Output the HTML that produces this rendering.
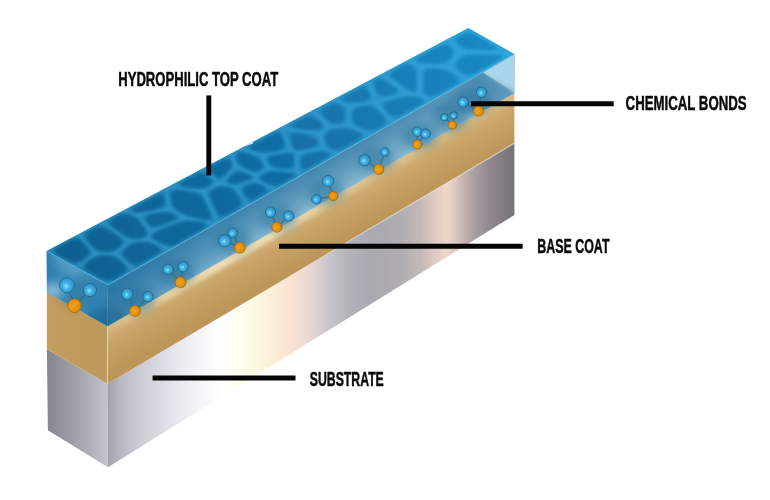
<!DOCTYPE html>
<html><head><meta charset="utf-8"><title>Coating layers</title>
<style>html,body{margin:0;padding:0;background:#fff}body{width:770px;height:500px;overflow:hidden;font-family:"Liberation Sans",sans-serif}svg{display:block}</style>
</head><body>
<svg width="770" height="500" viewBox="0 0 770 500">
<defs>
<filter id="blur1" x="-20%" y="-20%" width="140%" height="140%"><feGaussianBlur stdDeviation="1.7"/></filter>
<filter id="blur2" x="-20%" y="-20%" width="140%" height="140%"><feGaussianBlur stdDeviation="2.2"/></filter>
<filter id="blur4" x="-50%" y="-50%" width="200%" height="200%"><feGaussianBlur stdDeviation="4"/></filter>
<filter id="blur8" x="-50%" y="-50%" width="200%" height="200%"><feGaussianBlur stdDeviation="8"/></filter>
<radialGradient id="sb" cx=".44" cy=".56" r=".75"><stop offset="0" stop-color="#8ae4fb"/><stop offset=".3" stop-color="#40b0e2"/><stop offset=".7" stop-color="#2e92c6"/><stop offset="1" stop-color="#216c96"/></radialGradient>
<radialGradient id="so" cx=".4" cy=".5" r=".72"><stop offset="0" stop-color="#f2a21b"/><stop offset=".55" stop-color="#e4900c"/><stop offset="1" stop-color="#b87206"/></radialGradient>
<linearGradient id="topG" gradientUnits="userSpaceOnUse" x1="60" y1="270" x2="500" y2="40"><stop offset="0" stop-color="#1f80b2"/><stop offset=".5" stop-color="#2389bd"/><stop offset=".8" stop-color="#2798ce"/><stop offset="1" stop-color="#29a4dc"/></linearGradient>
<linearGradient id="cellG" gradientUnits="userSpaceOnUse" x1="60" y1="270" x2="500" y2="40"><stop offset="0" stop-color="#0d6092"/><stop offset=".5" stop-color="#116da2"/><stop offset=".8" stop-color="#1780b8"/><stop offset="1" stop-color="#1a89c3"/></linearGradient>
<linearGradient id="blueF" gradientUnits="userSpaceOnUse" x1="108.0" y1="285.0" x2="125.3" y2="315.4"><stop offset="0" stop-color="#3b81aa"/><stop offset=".2" stop-color="#488ab1"/><stop offset=".5" stop-color="#5c98ba"/><stop offset=".8" stop-color="#73a9c6"/><stop offset="1" stop-color="#88b9d1"/></linearGradient>
<linearGradient id="blueFx" gradientUnits="userSpaceOnUse" x1="108" y1="0" x2="514" y2="0"><stop offset="0" stop-color="#1b6c9e" stop-opacity=".62"/><stop offset=".15" stop-color="#2a7aaa" stop-opacity=".4"/><stop offset=".32" stop-color="#3b8dba" stop-opacity=".15"/><stop offset=".5" stop-color="#8fbfd8" stop-opacity=".06"/><stop offset=".8" stop-color="#9cc6dc" stop-opacity=".22"/><stop offset="1" stop-color="#a6cee2" stop-opacity=".3"/></linearGradient>
<linearGradient id="blueL" gradientUnits="userSpaceOnUse" x1="47" y1="0" x2="108" y2="0"><stop offset="0" stop-color="#2c7eae"/><stop offset=".4" stop-color="#4792bd"/><stop offset="1" stop-color="#2e80b0"/></linearGradient>
<linearGradient id="tanF" gradientUnits="userSpaceOnUse" x1="107.5" y1="326.2" x2="129.2" y2="364.5"><stop offset="0" stop-color="#d3b47a"/><stop offset=".35" stop-color="#c8a468"/><stop offset="1" stop-color="#bc9558"/></linearGradient>
<linearGradient id="tanHL" gradientUnits="userSpaceOnUse" x1="108" y1="0" x2="514" y2="0"><stop offset="0" stop-color="#efdfb6" stop-opacity=".15"/><stop offset=".16" stop-color="#efdfb6" stop-opacity=".7"/><stop offset=".28" stop-color="#efdfb6" stop-opacity="1"/><stop offset=".44" stop-color="#efdfb6" stop-opacity=".9"/><stop offset=".54" stop-color="#efdfb6" stop-opacity=".5"/><stop offset=".64" stop-color="#efdfb6" stop-opacity=".28"/><stop offset="1" stop-color="#efdfb6" stop-opacity=".15"/></linearGradient>
<linearGradient id="tanL" gradientUnits="userSpaceOnUse" x1="47" y1="0" x2="108" y2="0"><stop offset="0" stop-color="#c39c60"/><stop offset="1" stop-color="#bf985b"/></linearGradient>
<linearGradient id="silF" gradientUnits="userSpaceOnUse" x1="108" y1="0" x2="514.4" y2="0">
<stop offset="0.000" stop-color="#a3a3ab"/><stop offset="0.034" stop-color="#b9bac2"/><stop offset="0.079" stop-color="#cbccd4"/><stop offset="0.157" stop-color="#e3e4eb"/><stop offset="0.226" stop-color="#f5f5f9"/><stop offset="0.281" stop-color="#ffffff"/><stop offset="0.325" stop-color="#fffdee"/><stop offset="0.379" stop-color="#fef6dc"/><stop offset="0.440" stop-color="#fce5d1"/><stop offset="0.495" stop-color="#ead9d3"/><stop offset="0.541" stop-color="#c9c7ce"/><stop offset="0.595" stop-color="#b2b2ba"/><stop offset="0.650" stop-color="#a9a9b1"/><stop offset="0.719" stop-color="#b0acb1"/><stop offset="0.768" stop-color="#c4b8b7"/><stop offset="0.807" stop-color="#e0ccc3"/><stop offset="0.832" stop-color="#eed6ca"/><stop offset="0.856" stop-color="#dcc6bd"/><stop offset="0.891" stop-color="#b1a5a7"/><stop offset="0.940" stop-color="#90888e"/><stop offset="1.000" stop-color="#787078"/></linearGradient>
<linearGradient id="silL" gradientUnits="userSpaceOnUse" x1="47" y1="0" x2="108" y2="0"><stop offset="0" stop-color="#85858d"/><stop offset=".5" stop-color="#a2a3ab"/><stop offset="1" stop-color="#c3c5cf"/></linearGradient>
<linearGradient id="silEdge" gradientUnits="userSpaceOnUse" x1="108" y1="0" x2="514" y2="0"><stop offset="0" stop-color="#fff" stop-opacity="0"/><stop offset=".5" stop-color="#fff" stop-opacity=".15"/><stop offset=".8" stop-color="#f4ece8" stop-opacity=".6"/><stop offset="1" stop-color="#e8dcd8" stop-opacity=".55"/></linearGradient>
<clipPath id="topClip"><polygon points="46.5,251.0 108.0,285.0 514.4,54.0 468.3,28.0"/></clipPath>
<clipPath id="blueFClip"><polygon points="108.0,285.0 514.4,54.0 514.4,93.0 107.5,326.2"/></clipPath>
<clipPath id="tanFClip"><polygon points="107.5,326.2 514.4,93.0 514.4,143.2 107.4,383.8"/></clipPath>
<clipPath id="blueAllClip"><polygon points="46.5,251.0 108.0,285.0 514.4,54.0 514.4,93.0 107.5,326.2 46.9,292.4"/></clipPath>
<clipPath id="frontClip"><polygon points="108.0,285.0 514.4,54.0 514.4,215.0 108.0,467.2"/></clipPath>
<clipPath id="leftClip"><polygon points="46.5,251.0 108.0,285.0 108.0,467.2 47.9,430.2"/></clipPath>
</defs>
<rect width="770" height="500" fill="#ffffff"/>
<!-- left face -->
<polygon points="46.9,349.3 107.4,383.8 108.0,467.2 47.9,430.2" fill="url(#silL)"/>
<polygon points="46.9,292.4 107.5,326.2 107.4,383.8 46.9,349.3" fill="url(#tanL)"/>
<polygon points="46.5,251.0 108.0,285.0 107.5,326.2 46.9,292.4" fill="url(#blueL)"/>
<!-- front face -->
<polygon points="107.4,383.8 514.4,143.2 514.4,215.0 108.0,467.2" fill="url(#silF)"/>
<polygon points="107.5,326.2 514.4,93.0 514.4,143.2 107.4,383.8" fill="url(#tanF)"/>
<g clip-path="url(#tanFClip)"><polygon points="97.5,328.9 524.4,84.3 524.4,95.3 97.5,339.9" fill="url(#tanHL)" filter="url(#blur2)"/></g>
<polygon points="108.0,285.0 514.4,54.0 514.4,93.0 107.5,326.2" fill="url(#blueF)"/>
<polygon points="108.0,285.0 514.4,54.0 514.4,93.0 107.5,326.2" fill="url(#blueFx)"/>
<g clip-path="url(#blueFClip)">
<polygon points="514.4,54.0 483.0,72.4 514.4,93.0" fill="#a9d6ea"/>
<polygon points="481.0,74.0 514.4,92.0 514.4,112.0 430.0,112.0" fill="#3f83ab" opacity=".6" filter="url(#blur2)"/>
</g>
<line x1="107.5" y1="285.0" x2="107.4" y2="383.8" stroke="#e9dba6" stroke-width="1" opacity="0"/>
<g clip-path="url(#blueAllClip)">
<ellipse cx="107" cy="320" rx="24" ry="13" fill="#175f8e" opacity=".55" filter="url(#blur4)"/>
<ellipse cx="54" cy="291" rx="13" ry="8" fill="#a9d0e2" opacity=".7" filter="url(#blur4)"/>
<ellipse cx="70" cy="262" rx="20" ry="9" fill="#62aed2" opacity=".5" filter="url(#blur4)" transform="rotate(28 70 262)"/>
</g>
<line x1="107.4" y1="383.8" x2="514.4" y2="143.2" stroke="url(#silEdge)" stroke-width="1.2"/>
<!-- top face -->
<polygon points="46.5,251.0 108.0,285.0 514.4,54.0 468.3,28.0" fill="url(#topG)"/>
<g clip-path="url(#topClip)">
<g filter="url(#blur1)" fill="none" stroke="#45a8da" stroke-opacity=".4" stroke-width="1.6"><path d="M95.6,253.6L78.4,234.1L46.5,251.0L75.8,267.2L95.6,253.6Z"/><path d="M137.8,214.9L169.4,209.0L166.2,187.7L122.4,210.9L137.8,214.9Z"/><path d="M95.6,253.6L115.6,253.4L129.7,241.3L101.0,222.2L78.4,234.1L95.6,253.6Z"/><path d="M115.6,253.4L95.6,253.6L75.8,267.2L108.0,285.0L134.2,270.1L115.6,253.4Z"/><path d="M148.0,239.0L129.7,241.3L115.6,253.4L134.2,270.1L170.4,249.5L148.0,239.0Z"/><path d="M137.8,214.9L122.4,210.9L101.0,222.2L129.7,241.3L148.0,239.0L150.8,231.5L137.8,214.9Z"/><path d="M150.8,231.5L185.6,218.0L169.4,209.0L137.8,214.9L150.8,231.5Z"/><path d="M185.6,218.0L150.8,231.5L148.0,239.0L170.4,249.5L216.3,223.5L185.6,218.0Z"/><path d="M256.1,179.6L236.0,186.8L248.0,205.4L275.0,190.1L256.1,179.6Z"/><path d="M203.4,191.4L219.2,183.3L203.3,168.1L168.4,186.6L203.4,191.4Z"/><path d="M185.6,218.0L216.3,223.5L218.1,222.4L203.4,191.4L168.4,186.6L166.2,187.7L169.4,209.0L185.6,218.0Z"/><path d="M236.0,186.8L219.8,183.2L219.2,183.3L203.4,191.4L218.1,222.4L248.0,205.4L236.0,186.8Z"/><path d="M261.7,155.4L290.8,150.5L282.7,128.8L280.3,127.4L240.2,148.6L261.7,155.4Z"/><path d="M219.2,183.3L219.8,183.2L236.1,166.9L230.9,153.5L203.3,168.1L219.2,183.3Z"/><path d="M256.1,179.6L256.7,175.9L236.1,166.9L219.8,183.2L236.0,186.8L256.1,179.6Z"/><path d="M268.7,168.5L261.7,155.4L240.2,148.6L230.9,153.5L236.1,166.9L256.7,175.9L268.7,168.5Z"/><path d="M256.7,175.9L256.1,179.6L275.0,190.1L301.2,175.2L297.0,171.9L268.7,168.5L256.7,175.9Z"/><path d="M323.4,148.6L297.0,153.0L297.0,171.9L301.2,175.2L338.6,153.9L323.4,148.6Z"/><path d="M282.7,128.8L319.4,133.5L330.5,126.9L312.0,110.7L280.3,127.4L282.7,128.8Z"/><path d="M268.7,168.5L297.0,171.9L297.0,153.0L290.8,150.5L261.7,155.4L268.7,168.5Z"/><path d="M319.4,133.5L323.4,148.6L338.6,153.9L372.3,134.8L349.0,125.3L330.5,126.9L319.4,133.5Z"/><path d="M297.0,153.0L323.4,148.6L319.4,133.5L282.7,128.8L290.8,150.5L297.0,153.0Z"/><path d="M349.0,105.6L375.2,102.4L376.4,101.2L367.8,81.1L333.3,99.4L349.0,105.6Z"/><path d="M420.0,94.8L408.4,93.7L376.4,101.2L375.2,102.4L392.7,123.2L432.4,100.6L420.0,94.8Z"/><path d="M349.0,105.6L333.3,99.4L312.0,110.7L330.5,126.9L349.0,125.3L349.0,105.6Z"/><path d="M349.0,125.3L372.3,134.8L392.7,123.2L375.2,102.4L349.0,105.6L349.0,125.3Z"/><path d="M408.4,93.7L420.0,94.8L420.0,65.7L406.8,60.5L381.6,73.8L408.4,93.7Z"/><path d="M420.0,65.7L448.1,67.1L459.9,51.8L448.0,38.7L406.8,60.5L420.0,65.7Z"/><path d="M376.4,101.2L408.4,93.7L381.6,73.8L367.8,81.1L376.4,101.2Z"/><path d="M459.9,51.8L448.1,67.1L467.1,80.9L514.4,54.0L512.0,52.6L459.9,51.8Z"/><path d="M420.0,65.7L420.0,94.8L432.4,100.6L467.1,80.9L448.1,67.1L420.0,65.7Z"/><path d="M459.9,51.8L512.0,52.6L468.3,28.0L448.0,38.7L459.9,51.8Z"/></g>
<g filter="url(#blur1)" fill="url(#cellG)">
<path d="M85.5,258.3Q92.5,253.4 87.6,247.8L82.6,242.2Q77.7,236.5 69.5,240.8L58.4,246.7Q50.3,251.0 58.2,255.4L67.7,260.7Q75.6,265.0 82.7,260.2Z"/><path d="M133.5,211.5Q138.1,212.7 148.5,210.7L155.1,209.5Q165.6,207.5 164.6,201.2L164.2,198.5Q163.2,192.1 155.1,196.4L137.0,206.0Q128.9,210.3 133.5,211.5Z"/><path d="M92.5,246.2Q97.5,251.8 105.7,251.7L105.7,251.7Q113.9,251.6 119.8,246.5L119.8,246.5Q125.8,241.4 118.6,236.6L108.0,229.5Q100.8,224.7 92.6,229.0L90.3,230.2Q82.2,234.5 87.2,240.2Z"/><path d="M119.7,260.7Q113.7,255.4 105.5,255.5L105.5,255.5Q97.2,255.6 90.2,260.4L87.6,262.2Q80.5,267.1 88.5,271.5L100.0,277.8Q108.0,282.2 115.8,277.8L122.0,274.3Q129.8,269.8 123.9,264.5Z"/><path d="M155.6,245.4Q147.0,241.4 139.5,242.3L139.5,242.3Q132.0,243.3 126.1,248.3L126.1,248.3Q120.2,253.4 126.1,258.7L128.9,261.3Q134.9,266.6 142.7,262.2L156.8,254.1Q164.7,249.7 156.1,245.7Z"/><path d="M139.9,222.2Q135.4,216.4 129.2,214.7L129.2,214.7Q123.0,213.1 114.9,217.4L113.7,218.0Q105.6,222.3 112.8,227.1L123.7,234.4Q130.9,239.2 138.1,238.3L138.1,238.3Q145.3,237.4 146.3,234.6L146.3,234.6Q147.3,231.8 142.8,226.0Z"/><path d="M147.7,222.9Q152.2,228.7 161.3,225.1L171.2,221.3Q180.3,217.7 174.4,214.5L174.4,214.5Q168.6,211.2 158.1,213.2L152.8,214.1Q142.4,216.1 146.9,221.9Z"/><path d="M196.6,221.7Q186.1,219.8 176.9,223.3L162.4,229.0Q153.3,232.5 152.2,235.5L152.2,235.5Q151.2,238.4 159.7,242.4L161.7,243.3Q170.2,247.3 178.1,242.9L203.0,228.7Q210.9,224.2 200.4,222.3Z"/><path d="M262.9,186.0Q255.6,182.0 247.8,184.8L247.8,184.8Q240.0,187.6 243.8,193.5L245.5,196.1Q249.3,202.0 257.1,197.6L262.4,194.6Q270.2,190.1 262.9,186.0Z"/><path d="M191.8,187.8Q202.5,189.3 208.6,186.1L208.6,186.1Q214.8,182.9 209.1,177.5L208.2,176.6Q202.6,171.2 194.4,175.5L183.5,181.2Q175.4,185.5 186.1,187.0Z"/><path d="M180.7,190.4Q170.0,188.9 170.9,195.3L171.9,201.7Q172.9,208.1 180.2,212.1L180.2,212.1Q187.5,216.1 198.0,218.0L203.1,218.9Q213.6,220.8 210.7,214.7L203.4,199.3Q200.5,193.2 189.8,191.7Z"/><path d="M226.6,187.1Q220.2,185.7 214.0,189.0L214.0,189.0Q207.8,192.2 210.7,198.3L217.2,212.0Q220.1,218.2 227.9,213.7L235.7,209.3Q243.5,204.9 239.7,198.9L236.8,194.4Q233.0,188.5 226.6,187.1Z"/><path d="M254.1,150.7Q262.1,153.2 272.6,151.5L276.2,150.9Q286.7,149.1 284.4,142.9L282.1,136.6Q279.7,130.4 271.6,134.7L254.3,143.9Q246.1,148.2 254.1,150.7Z"/><path d="M213.7,174.7Q219.4,180.2 224.9,174.7L227.4,172.1Q232.9,166.6 231.0,161.7L231.0,161.7Q229.1,156.8 221.0,161.1L215.2,164.1Q207.1,168.4 212.8,173.8Z"/><path d="M244.3,181.6Q253.0,178.5 253.1,177.6L253.1,177.6Q253.3,176.7 245.2,173.2L245.2,173.2Q237.1,169.7 231.6,175.2L230.0,176.8Q224.5,182.3 230.1,183.5L230.1,183.5Q235.6,184.7 244.3,181.6Z"/><path d="M260.2,170.3Q264.1,167.9 261.2,162.4L261.2,162.4Q258.3,157.0 249.5,154.2L249.5,154.2Q240.8,151.4 238.1,152.9L238.1,152.9Q235.4,154.3 237.5,159.9L237.5,159.9Q239.7,165.6 248.0,169.1L248.0,169.1Q256.2,172.7 260.2,170.3Z"/><path d="M264.8,173.6Q259.9,176.7 259.7,177.8L259.7,177.8Q259.5,178.9 267.2,183.1L267.2,183.1Q274.9,187.4 282.8,183.0L289.0,179.4Q296.9,175.0 296.0,174.3L296.0,174.3Q295.1,173.6 284.3,172.3L280.6,171.9Q269.8,170.6 264.8,173.6Z"/><path d="M327.8,152.6Q322.9,150.9 312.3,152.7L311.2,152.8Q300.7,154.6 301.0,160.9L301.3,165.6Q301.7,171.9 309.5,167.5L324.8,158.8Q332.7,154.3 327.8,152.6Z"/><path d="M295.6,122.6Q287.5,126.9 298.2,128.3L307.3,129.5Q318.0,130.9 321.6,128.7L321.6,128.7Q325.1,126.6 319.0,121.3L317.2,119.7Q311.2,114.4 303.0,118.7Z"/><path d="M268.3,161.8Q271.1,167.0 281.9,168.3L283.1,168.4Q293.9,169.7 293.9,163.3L293.9,160.3Q293.9,153.9 292.1,153.2L292.1,153.2Q290.3,152.5 279.7,154.2L276.1,154.8Q265.5,156.6 268.3,161.8Z"/><path d="M328.0,131.7Q323.6,134.3 325.3,140.6L325.4,140.9Q327.0,147.2 332.5,149.1L332.5,149.1Q338.1,151.0 345.9,146.6L358.4,139.5Q366.2,135.0 357.2,131.4L357.0,131.3Q348.0,127.7 340.2,128.3L340.2,128.3Q332.4,129.0 328.0,131.7Z"/><path d="M296.2,149.7Q297.8,150.3 308.2,148.6L308.2,148.6Q318.6,146.8 317.2,141.2L317.2,141.2Q315.7,135.6 304.9,134.2L299.0,133.4Q288.2,132.0 290.6,138.2L292.3,142.9Q294.6,149.1 296.2,149.7Z"/><path d="M344.4,101.3Q349.7,103.4 360.5,102.1L361.7,101.9Q372.5,100.6 369.8,94.5L368.4,91.1Q365.8,85.0 357.7,89.3L347.1,94.9Q339.0,99.1 344.4,101.3Z"/><path d="M390.2,100.4Q380.0,102.8 384.8,108.5L389.1,113.5Q393.9,119.2 401.7,114.8L418.5,105.2Q426.4,100.8 422.3,98.9L422.3,98.9Q418.3,97.0 413.5,96.6L413.5,96.6Q408.8,96.1 398.6,98.5Z"/><path d="M344.7,113.2Q344.7,106.9 339.2,104.7L339.2,104.7Q333.7,102.5 325.6,106.8L325.6,106.8Q317.6,111.1 323.6,116.4L326.5,118.9Q332.6,124.2 338.6,123.7L338.6,123.7Q344.7,123.2 344.7,116.8Z"/><path d="M352.5,117.9Q352.5,124.2 361.5,127.9L363.0,128.5Q372.0,132.2 379.8,127.7L380.7,127.2Q388.5,122.8 383.7,117.1L378.1,110.4Q373.2,104.7 362.8,105.9L362.8,105.9Q352.5,107.2 352.5,113.5Z"/><path d="M403.8,86.5Q410.6,91.5 413.3,91.8L413.3,91.8Q416.0,92.1 416.0,85.7L416.0,73.3Q416.0,66.9 411.6,65.2L411.6,65.2Q407.2,63.5 399.1,67.8L395.2,69.8Q387.1,74.1 393.8,79.1Z"/><path d="M417.7,61.7Q421.5,63.2 432.5,63.8L434.4,63.9Q445.4,64.4 449.8,58.6L450.6,57.7Q455.0,51.9 450.9,47.3L450.9,47.3Q446.8,42.8 438.6,47.1L422.0,55.9Q413.9,60.2 417.7,61.7Z"/><path d="M376.6,91.8Q379.2,97.9 389.4,95.5L391.5,95.0Q401.7,92.6 395.0,87.6L387.9,82.4Q381.1,77.3 376.7,79.6L376.7,79.6Q372.4,81.9 375.0,88.1Z"/><path d="M473.6,54.4Q462.6,54.2 458.1,60.0L457.4,60.9Q452.9,66.7 459.8,71.7L460.6,72.3Q467.5,77.3 475.4,72.8L499.0,59.4Q506.8,55.0 495.8,54.8Z"/><path d="M434.7,68.6Q423.7,68.1 423.7,74.4L423.7,87.5Q423.7,93.8 428.0,95.8L428.0,95.8Q432.2,97.7 440.0,93.3L454.3,85.1Q462.1,80.7 455.3,75.7L453.1,74.1Q446.2,69.2 435.2,68.6Z"/><path d="M457.8,44.3Q462.5,49.4 473.5,49.6L490.4,49.9Q501.4,50.1 493.6,45.6L476.1,35.8Q468.2,31.3 460.7,35.3L460.7,35.3Q453.2,39.3 457.8,44.3Z"/>
</g></g>
<line x1="108.0" y1="285.0" x2="514.4" y2="54.0" stroke="#62b8e2" stroke-width="1.1" opacity=".55"/>
<line x1="46.5" y1="251.0" x2="108.0" y2="285.0" stroke="#62b8e2" stroke-width="1.1" opacity=".45"/>
<polygon points="245.5,145.9 253,141.9 252.8,143.4 250,144.5" fill="#fff"/>
<!-- corner highlight -->
<line x1="107.5" y1="327.2" x2="107.4" y2="383.8" stroke="#ead9a4" stroke-width="1"/>
<!-- molecules -->
<g clip-path="url(#frontClip)"><ellipse cx="136.8" cy="300.5" rx="18" ry="13" fill="#1f6a96" opacity=".42" filter="url(#blur4)"/><line x1="127.3" y1="294.0" x2="135.1" y2="310.9" stroke="#3a6f8c" stroke-width="1.3"/><line x1="148.1" y1="296.6" x2="135.1" y2="310.9" stroke="#3a6f8c" stroke-width="1.3"/><circle cx="135.1" cy="310.9" r="5.5" fill="url(#so)" stroke="#9a5f08" stroke-opacity=".75" stroke-width=".8"/><circle cx="127.3" cy="294.0" r="5.7" fill="url(#sb)" stroke="#1d5472" stroke-opacity=".75" stroke-width=".8"/><circle cx="148.1" cy="296.6" r="5.2" fill="url(#sb)" stroke="#1d5472" stroke-opacity=".75" stroke-width=".8"/><ellipse cx="177.3" cy="272.8" rx="18" ry="13" fill="#1f6a96" opacity=".42" filter="url(#blur4)"/><line x1="168.1" y1="269.3" x2="180.6" y2="282.3" stroke="#3a6f8c" stroke-width="1.3"/><line x1="183.2" y1="266.7" x2="180.6" y2="282.3" stroke="#3a6f8c" stroke-width="1.3"/><circle cx="180.6" cy="282.3" r="5.5" fill="url(#so)" stroke="#9a5f08" stroke-opacity=".75" stroke-width=".8"/><circle cx="168.1" cy="269.3" r="5.2" fill="url(#sb)" stroke="#1d5472" stroke-opacity=".75" stroke-width=".8"/><circle cx="183.2" cy="266.7" r="5.2" fill="url(#sb)" stroke="#1d5472" stroke-opacity=".75" stroke-width=".8"/><ellipse cx="232.4" cy="240.4" rx="18" ry="13" fill="#1f6a96" opacity=".42" filter="url(#blur4)"/><line x1="224.8" y1="240.7" x2="239.9" y2="247.7" stroke="#3a6f8c" stroke-width="1.3"/><line x1="232.6" y1="232.9" x2="239.9" y2="247.7" stroke="#3a6f8c" stroke-width="1.3"/><circle cx="239.9" cy="247.7" r="5.5" fill="url(#so)" stroke="#9a5f08" stroke-opacity=".75" stroke-width=".8"/><circle cx="224.8" cy="240.7" r="6.2" fill="url(#sb)" stroke="#1d5472" stroke-opacity=".75" stroke-width=".8"/><circle cx="232.6" cy="232.9" r="4.8" fill="url(#sb)" stroke="#1d5472" stroke-opacity=".75" stroke-width=".8"/><ellipse cx="278.6" cy="218.4" rx="18" ry="13" fill="#1f6a96" opacity=".42" filter="url(#blur4)"/><line x1="270.4" y1="212.1" x2="276.9" y2="227.2" stroke="#3a6f8c" stroke-width="1.3"/><line x1="288.6" y1="216.0" x2="276.9" y2="227.2" stroke="#3a6f8c" stroke-width="1.3"/><circle cx="276.9" cy="227.2" r="5.1" fill="url(#so)" stroke="#9a5f08" stroke-opacity=".75" stroke-width=".8"/><circle cx="270.4" cy="212.1" r="5.2" fill="url(#sb)" stroke="#1d5472" stroke-opacity=".75" stroke-width=".8"/><circle cx="288.6" cy="216.0" r="5.2" fill="url(#sb)" stroke="#1d5472" stroke-opacity=".75" stroke-width=".8"/><ellipse cx="325.9" cy="192.1" rx="18" ry="13" fill="#1f6a96" opacity=".42" filter="url(#blur4)"/><line x1="328.1" y1="181.0" x2="333.3" y2="196.1" stroke="#3a6f8c" stroke-width="1.3"/><line x1="316.4" y1="199.2" x2="333.3" y2="196.1" stroke="#3a6f8c" stroke-width="1.3"/><circle cx="333.3" cy="196.1" r="4.6" fill="url(#so)" stroke="#9a5f08" stroke-opacity=".75" stroke-width=".8"/><circle cx="328.1" cy="181.0" r="5.7" fill="url(#sb)" stroke="#1d5472" stroke-opacity=".75" stroke-width=".8"/><circle cx="316.4" cy="199.2" r="4.8" fill="url(#sb)" stroke="#1d5472" stroke-opacity=".75" stroke-width=".8"/><ellipse cx="376.0" cy="160.5" rx="18" ry="13" fill="#1f6a96" opacity=".42" filter="url(#blur4)"/><line x1="364.5" y1="160.2" x2="378.8" y2="169.3" stroke="#3a6f8c" stroke-width="1.3"/><line x1="384.8" y1="151.9" x2="378.8" y2="169.3" stroke="#3a6f8c" stroke-width="1.3"/><circle cx="378.8" cy="169.3" r="5.1" fill="url(#so)" stroke="#9a5f08" stroke-opacity=".75" stroke-width=".8"/><circle cx="364.5" cy="160.2" r="5.7" fill="url(#sb)" stroke="#1d5472" stroke-opacity=".75" stroke-width=".8"/><circle cx="384.8" cy="151.9" r="4.3" fill="url(#sb)" stroke="#1d5472" stroke-opacity=".75" stroke-width=".8"/><ellipse cx="420.1" cy="136.6" rx="18" ry="13" fill="#1f6a96" opacity=".42" filter="url(#blur4)"/><line x1="417.3" y1="131.6" x2="417.3" y2="144.6" stroke="#3a6f8c" stroke-width="1.3"/><line x1="425.6" y1="133.7" x2="417.3" y2="144.6" stroke="#3a6f8c" stroke-width="1.3"/><circle cx="417.3" cy="144.6" r="4.6" fill="url(#so)" stroke="#9a5f08" stroke-opacity=".75" stroke-width=".8"/><circle cx="417.3" cy="131.6" r="4.8" fill="url(#sb)" stroke="#1d5472" stroke-opacity=".75" stroke-width=".8"/><circle cx="425.6" cy="133.7" r="4.8" fill="url(#sb)" stroke="#1d5472" stroke-opacity=".75" stroke-width=".8"/><ellipse cx="450.2" cy="119.3" rx="18" ry="13" fill="#1f6a96" opacity=".42" filter="url(#blur4)"/><line x1="444.4" y1="117.3" x2="452.4" y2="125.1" stroke="#3a6f8c" stroke-width="1.3"/><line x1="453.7" y1="115.5" x2="452.4" y2="125.1" stroke="#3a6f8c" stroke-width="1.3"/><circle cx="452.4" cy="125.1" r="4.1" fill="url(#so)" stroke="#9a5f08" stroke-opacity=".75" stroke-width=".8"/><circle cx="444.4" cy="117.3" r="3.8" fill="url(#sb)" stroke="#1d5472" stroke-opacity=".75" stroke-width=".8"/><circle cx="453.7" cy="115.5" r="3.8" fill="url(#sb)" stroke="#1d5472" stroke-opacity=".75" stroke-width=".8"/><ellipse cx="474.4" cy="101.8" rx="18" ry="13" fill="#1f6a96" opacity=".42" filter="url(#blur4)"/><line x1="463.1" y1="102.0" x2="478.5" y2="111.0" stroke="#3a6f8c" stroke-width="1.3"/><line x1="481.5" y1="92.3" x2="478.5" y2="111.0" stroke="#3a6f8c" stroke-width="1.3"/><circle cx="478.5" cy="111.0" r="5.1" fill="url(#so)" stroke="#9a5f08" stroke-opacity=".75" stroke-width=".8"/><circle cx="463.1" cy="102.0" r="5.2" fill="url(#sb)" stroke="#1d5472" stroke-opacity=".75" stroke-width=".8"/><circle cx="481.5" cy="92.3" r="5.2" fill="url(#sb)" stroke="#1d5472" stroke-opacity=".75" stroke-width=".8"/></g>
<g clip-path="url(#leftClip)"><ellipse cx="77.2" cy="293.6" rx="18" ry="13" fill="#1f6a96" opacity=".42" filter="url(#blur4)"/><line x1="67.0" y1="285.2" x2="74.6" y2="305.7" stroke="#3a6f8c" stroke-width="1.3"/><line x1="90.0" y1="290.0" x2="74.6" y2="305.7" stroke="#3a6f8c" stroke-width="1.3"/><circle cx="74.6" cy="305.7" r="6.9" fill="url(#so)" stroke="#9a5f08" stroke-opacity=".75" stroke-width=".8"/><circle cx="67.0" cy="285.2" r="7.6" fill="url(#sb)" stroke="#1d5472" stroke-opacity=".75" stroke-width=".8"/><circle cx="90.0" cy="290.0" r="6.6" fill="url(#sb)" stroke="#1d5472" stroke-opacity=".75" stroke-width=".8"/></g>
<!-- leader lines -->
<g stroke="#050505" stroke-width="4.9" stroke-linecap="butt">
<line x1="208.8" y1="95.4" x2="208.8" y2="175.4"/>
<line x1="471" y1="103.75" x2="613.7" y2="103.75"/>
<line x1="279" y1="246.3" x2="522.6" y2="246.3"/>
<line x1="152.6" y1="378.05" x2="295.5" y2="378.05"/>
</g>
<g opacity=".995">
<text x="118.2" y="85.8" textLength="160" lengthAdjust="spacingAndGlyphs" font-family="Liberation Sans, sans-serif" font-weight="700" font-size="20.4" fill="#0b0b0b" stroke="#0b0b0b" stroke-width=".5" stroke-linejoin="round">HYDROPHILIC TOP COAT</text>
<text x="625.6" y="110" textLength="121" lengthAdjust="spacingAndGlyphs" font-family="Liberation Sans, sans-serif" font-weight="700" font-size="20.4" fill="#0b0b0b" stroke="#0b0b0b" stroke-width=".5" stroke-linejoin="round">CHEMICAL BONDS</text>
<text x="537.2" y="252.5" textLength="72.3" lengthAdjust="spacingAndGlyphs" font-family="Liberation Sans, sans-serif" font-weight="700" font-size="20.4" fill="#0b0b0b" stroke="#0b0b0b" stroke-width=".5" stroke-linejoin="round">BASE COAT</text>
<text x="309.8" y="386.2" textLength="74" lengthAdjust="spacingAndGlyphs" font-family="Liberation Sans, sans-serif" font-weight="700" font-size="20.4" fill="#0b0b0b" stroke="#0b0b0b" stroke-width=".5" stroke-linejoin="round">SUBSTRATE</text>
</g>
</svg>
</body></html>
